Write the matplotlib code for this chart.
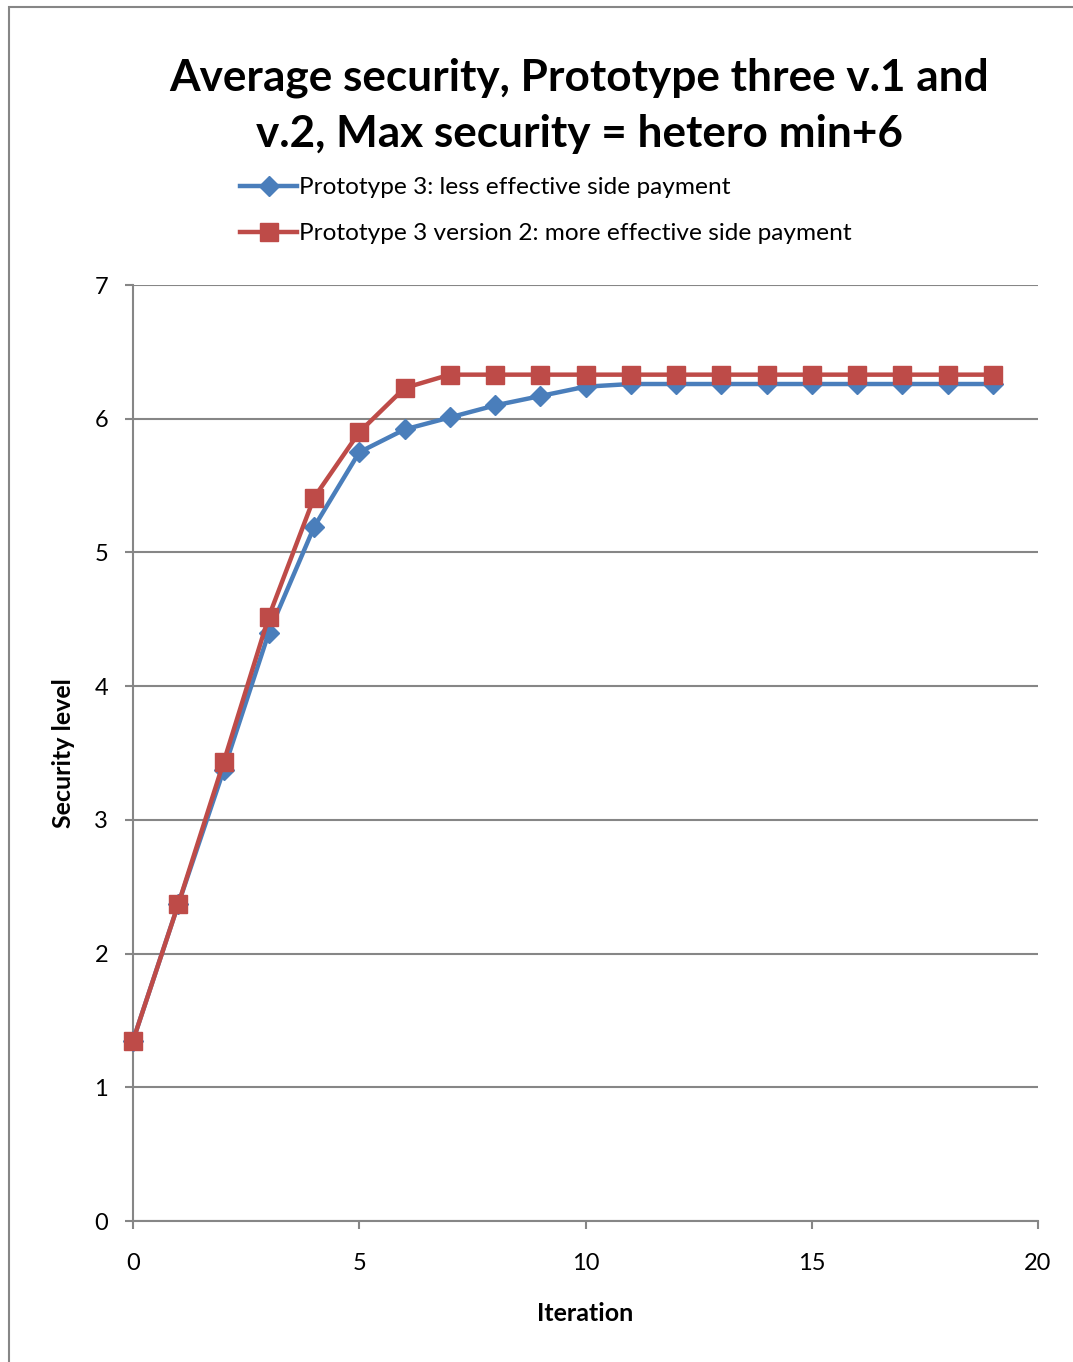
import matplotlib.pyplot as plt
from matplotlib.patches import Rectangle

plt.rcParams['font.family'] = ['Lato', 'DejaVu Sans']

iterations = list(range(20))
proto3_v1 = [1.35, 2.37, 3.37, 4.40, 5.19, 5.75, 5.92, 6.01, 6.10, 6.17,
             6.24, 6.26, 6.26, 6.26, 6.26, 6.26, 6.26, 6.26, 6.26, 6.26]
proto3_v2 = [1.35, 2.37, 3.43, 4.52, 5.41, 5.90, 6.23, 6.33, 6.33, 6.33,
             6.33, 6.33, 6.33, 6.33, 6.33, 6.33, 6.33, 6.33, 6.33, 6.33]
labels = ["Prototype 3: less effective side payment",
          "Prototype 3 version 2: more effective side payment"]

grey = '#868686'

fig = plt.figure(figsize=(10.73, 13.62), dpi=100)
ax = fig.add_axes([0.124, 0.1035, 0.8434, 0.6872])

# outer chart border (only left/top edges visible in the original)
fig.patches.append(Rectangle((9 / 1073, -0.1), 1.2, 1 - 7 / 1362 + 0.1,
                             transform=fig.transFigure, fill=False,
                             edgecolor=grey, linewidth=1.5))

ax.plot(iterations, proto3_v1, color='#4a7ebb', linewidth=3.2, marker='D',
        markersize=10, label=labels[0], zorder=3, clip_on=False)
ax.plot(iterations, proto3_v2, color='#be4b48', linewidth=3.2, marker='s',
        markersize=13, label=labels[1], zorder=4, clip_on=False)

ax.set_xlim(0, 20)
ax.set_ylim(0, 7)
ax.set_xticks(range(0, 21, 5))
ax.set_yticks(range(0, 8))
ax.yaxis.grid(True, color=grey, linewidth=1.5)
ax.set_axisbelow(True)
for s in ['top', 'right']:
    ax.spines[s].set_visible(False)
for s in ['left', 'bottom']:
    ax.spines[s].set_color(grey)
    ax.spines[s].set_linewidth(1.5)
ax.tick_params(colors=grey, labelcolor='black', labelsize=17, length=6,
               width=1.5, pad=12)
ax.tick_params(axis='x', pad=17)

ax.set_xlabel('Iteration', fontsize=18, fontweight='bold', labelpad=20)
ax.set_ylabel('Security level', fontsize=18, fontweight='bold', labelpad=14)

fig.suptitle('Average security, Prototype three v.1 and\nv.2, Max security = hetero min+6',
             x=0.54, y=0.958, fontsize=31.8, fontweight='bold', linespacing=1.5)

ax.legend(loc='upper left', bbox_to_anchor=(218 / 1073, 0.886),
          bbox_transform=fig.transFigure, frameon=False, fontsize=17.6,
          handlelength=2.35, handletextpad=0.05, labelspacing=1.02)

fig.savefig('out.png', dpi=100)
